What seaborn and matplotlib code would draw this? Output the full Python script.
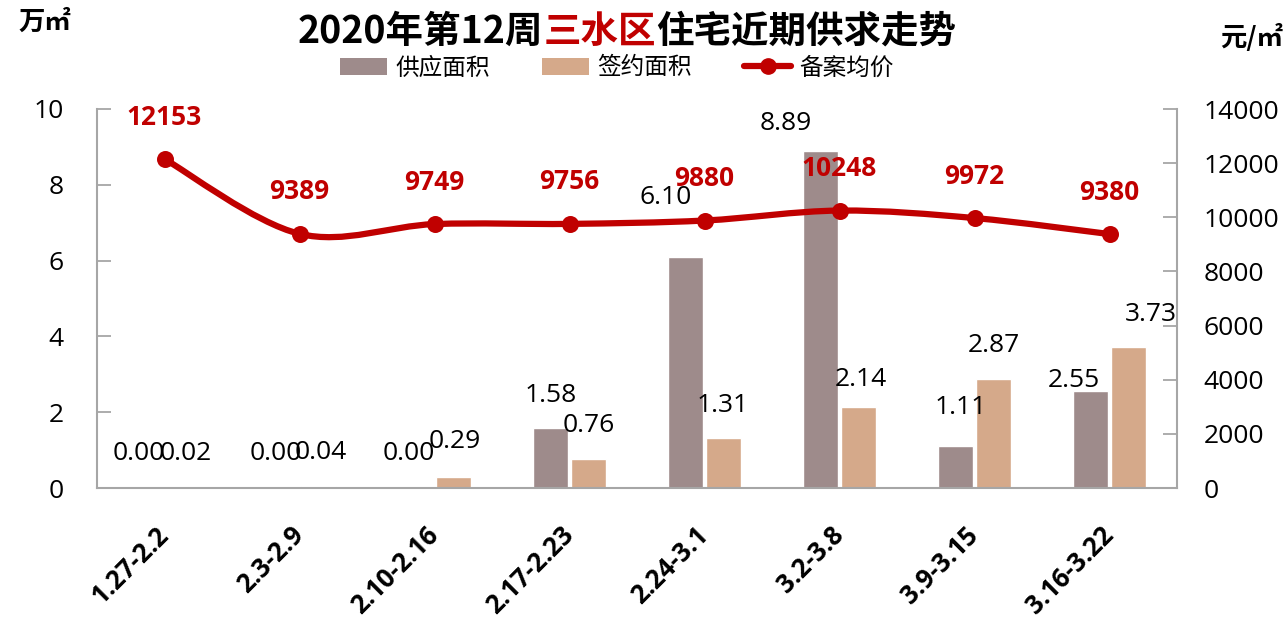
import numpy as np
import pandas as pd
import matplotlib
matplotlib.use("Agg")
import matplotlib.pyplot as plt
import seaborn as sns
from matplotlib.path import Path
from matplotlib.patches import PathPatch, Patch
from matplotlib.lines import Line2D

# ---------------- data ----------------
weeks = ["1.27-2.2", "2.3-2.9", "2.10-2.16", "2.17-2.23", "2.24-3.1", "3.2-3.8", "3.9-3.15", "3.16-3.22"]
supply = [0.00, 0.00, 0.00, 1.58, 6.10, 8.89, 1.11, 2.55]
signed = [0.02, 0.04, 0.29, 0.76, 1.31, 2.14, 2.87, 3.73]
price = [12153, 9389, 9749, 9756, 9880, 10248, 9972, 9380]
series_names = ["供应面积", "签约面积", "备案均价"]
left_ticks = [0, 2, 4, 6, 8, 10]
right_ticks = [0, 2000, 4000, 6000, 8000, 10000, 12000, 14000]
title_parts = ["2020年第12周", "三水区", "住宅近期供求走势"]
left_unit = "万㎡"
right_unit = "元/㎡"

# label nudges (pixels) to mimic the manually placed labels
supply_dx = [-7, -5, -7, 0, -20, -35, 5, -17]
supply_gap = [35, 35, 35, 33, 59, 28, 38, 11]
signed_dx = [2, 2, 1, 0, -1, 2, 0, 22]
signed_gap = [34, 34, 36, 34, 33, 27, 34, 32]

C_SUPPLY = "#9E8B8B"
C_SIGNED = "#D5A98A"
C_RED = "#C00000"
C_AXIS = "#A6A6A6"

sns.set_theme(style="white")
plt.rcParams["font.family"] = ["Noto Sans CJK SC", "DejaVu Sans"]
plt.rcParams["text.color"] = "black"
plt.rcParams["xtick.labelcolor"] = "black"
plt.rcParams["ytick.labelcolor"] = "black"
NUM_FONT = ["Open Sans", "DejaVu Sans"]

fig = plt.figure(figsize=(12.85, 6.26), dpi=100)
W, H = 1285, 626
ax = fig.add_axes([97 / W, 1 - 488 / H, (1177 - 97) / W, (488 - 109) / H])

df = pd.DataFrame({
    "week": weeks * 2,
    "value": supply + signed,
    "series": [series_names[0]] * len(weeks) + [series_names[1]] * len(weeks),
})
sns.barplot(data=df, x="week", y="value", hue="series", hue_order=series_names[:2],
            palette=[C_SUPPLY, C_SIGNED], width=0.56, gap=0.08, ax=ax,
            legend=False, saturation=1, errorbar=None)
ax.set_xlim(-0.5, len(weeks) - 0.5)
ax.set_ylim(0, 10)
ax.set_yticks(left_ticks)
ax.set_yticklabels([str(t) for t in left_ticks], family=NUM_FONT, fontsize=19, color="black")
ax.set_xlabel("")
ax.set_ylabel("")
ax.tick_params(axis="y", direction="in", length=10, width=1.3, color=C_AXIS, pad=24, left=True)
ax.tick_params(axis="x", length=0, pad=31)
ax.set_xticks(range(len(weeks)))
ax.set_xticklabels(weeks, rotation=45, ha="right", va="center", rotation_mode="anchor",
                   family=NUM_FONT, fontsize=18.5, fontweight="bold", color="black")
for s in ["top", "right"]:
    ax.spines[s].set_visible(False)
for s in ["left", "bottom"]:
    ax.spines[s].set_color(C_AXIS)
    ax.spines[s].set_linewidth(1.5)

# bar labels
px = 0.72  # pixels -> points
for cont, vals, dxs, gaps in [(ax.containers[0], supply, supply_dx, supply_gap),
                              (ax.containers[1], signed, signed_dx, signed_gap)]:
    for bar, v, dx, g in zip(cont.patches, vals, dxs, gaps):
        x = bar.get_x() + bar.get_width() / 2
        ax.annotate(f"{v:.2f}", xy=(x, bar.get_height()), xytext=(dx * px, g * px),
                    textcoords="offset points", ha="center", va="center",
                    family=NUM_FONT, fontsize=19, color="black", zorder=6)

# price line on right axis
ax2 = ax.twinx()
ax2.set_ylim(0, 14000)
ax2.set_yticks(right_ticks)
ax2.set_yticklabels([str(t) for t in right_ticks], family=NUM_FONT, fontsize=19, color="black")
ax2.tick_params(axis="y", direction="in", length=10, width=1.3, color=C_AXIS, pad=19, right=True)
for s in ["top", "left", "bottom"]:
    ax2.spines[s].set_visible(False)
ax2.spines["right"].set_color(C_AXIS)
ax2.spines["right"].set_linewidth(1.5)
ax2.grid(False)
ax.grid(False)

xs = np.arange(len(price), dtype=float)
P = np.column_stack([xs, np.array(price, dtype=float)])
n = len(P)
verts = [tuple(P[0])]
codes = [Path.MOVETO]
for i in range(n - 1):
    p0 = P[i - 1] if i > 0 else P[i]
    p1 = P[i]
    p2 = P[i + 1]
    p3 = P[i + 2] if i + 2 < n else P[i + 1]
    c1 = p1 + (p2 - p0) / 6.0
    c2 = p2 - (p3 - p1) / 6.0
    verts += [tuple(c1), tuple(c2), tuple(p2)]
    codes += [Path.CURVE4] * 3
ax2.add_patch(PathPatch(Path(verts, codes), facecolor="none", edgecolor=C_RED,
                        linewidth=4.5, capstyle="round", joinstyle="round", zorder=3))
sns.scatterplot(x=xs, y=price, ax=ax2, color=C_RED, s=150, linewidth=0, zorder=4, legend=False)
for x, v in zip(xs, price):
    ax2.annotate(f"{v}", xy=(x, v), xytext=(0, 42 * px), textcoords="offset points",
                 ha="center", va="center", family=NUM_FONT, fontsize=19,
                 fontweight="bold", color=C_RED, zorder=6)

# title in three coloured parts
t1 = fig.text(298 / W, 1 - 31 / H, title_parts[0], ha="left", va="center",
              fontsize=27, fontweight="bold", color="black")
t2 = plt.annotate(title_parts[1], xy=(1, 0.5), xycoords=t1, ha="left", va="center",
                  fontsize=27, fontweight="bold", color=C_RED, annotation_clip=False)
t3 = plt.annotate(title_parts[2], xy=(1, 0.5), xycoords=t2, ha="left", va="center",
                  fontsize=27, fontweight="bold", color="black", annotation_clip=False)

fig.text(18 / W, 1 - 22 / H, left_unit, ha="left", va="center", fontsize=19, fontweight="bold")
fig.text(1283 / W, 1 - 38 / H, right_unit, ha="right", va="center", fontsize=19, fontweight="bold")

handles = [Patch(facecolor=C_SUPPLY, edgecolor="none"),
           Patch(facecolor=C_SIGNED, edgecolor="none"),
           Line2D([0], [0], color=C_RED, lw=4.5, marker="o", markersize=11)]
fig.legend(handles, series_names, loc="center", bbox_to_anchor=(617 / W, 1 - 68 / H),
           ncol=3, frameon=False, fontsize=17, handlelength=2.0, handletextpad=0.35,
           columnspacing=2.2, handleheight=0.7)

fig.savefig("out.png", dpi=100)
